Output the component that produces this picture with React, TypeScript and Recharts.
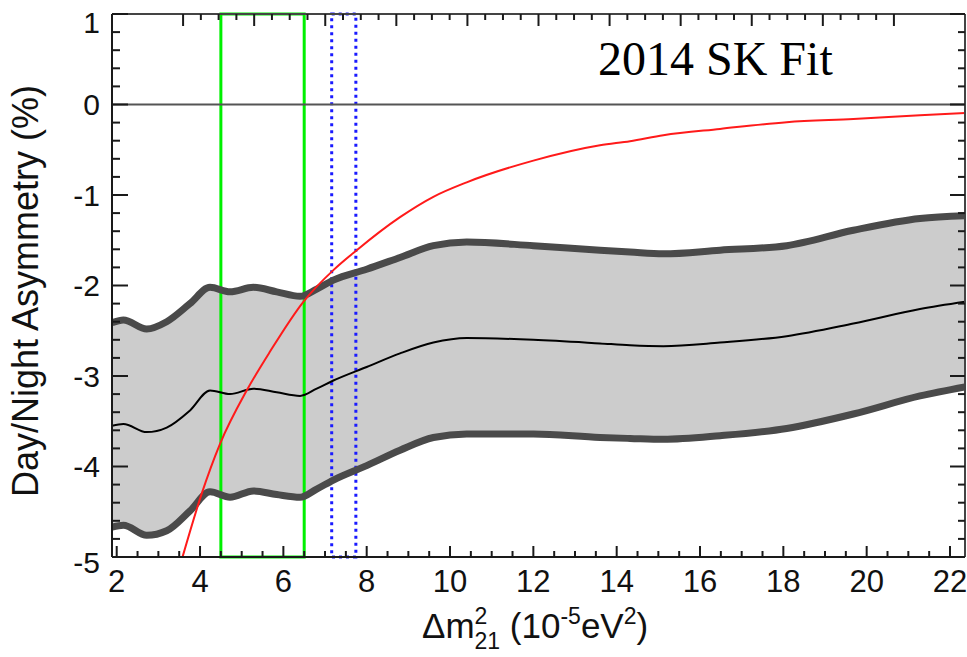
import React from "react";
import {
  Area,
  ComposedChart,
  Line,
  ReferenceArea,
  ReferenceLine,
  XAxis,
  YAxis,
} from "recharts";

// Δm²21 grid for the SK day/night band (10^-5 eV²)
const BAND_X = [
  1.89, 2.16, 2.72, 3.2, 3.76, 4.24, 4.72, 5.28, 5.84, 6.4, 6.8, 7.2, 8.0,
  8.8, 9.6, 10.4, 12.0, 13.6, 14.32, 15.12, 16.48, 18.08, 19.68, 21.28, 22.36,
];
const BAND_UPPER = [
  -2.41, -2.38, -2.48, -2.4, -2.2, -2.02, -2.07, -2.02, -2.07, -2.12, -2.04,
  -1.94, -1.82, -1.69, -1.56, -1.52, -1.56, -1.61, -1.63, -1.65, -1.61, -1.56,
  -1.39, -1.26, -1.23,
];
const BAND_MID = [
  -3.55, -3.53, -3.62, -3.57, -3.38, -3.16, -3.2, -3.14, -3.18, -3.22, -3.14,
  -3.05, -2.9, -2.75, -2.63, -2.58, -2.6, -2.64, -2.66, -2.67, -2.63, -2.56,
  -2.42, -2.26, -2.18,
];
const BAND_LOWER = [
  -4.67, -4.65, -4.76, -4.71, -4.49, -4.28, -4.34, -4.27, -4.31, -4.34, -4.25,
  -4.15, -3.99, -3.82, -3.68, -3.64, -3.64, -3.68, -3.69, -3.7, -3.66, -3.58,
  -3.42, -3.22, -3.12,
];

// expected asymmetry curve
const MSW_X = [
  3.58, 4.04, 4.48, 5.12, 5.68, 6.48, 7.2, 7.76, 8.8, 9.6, 10.4, 12.0, 13.6,
  14.32, 15.12, 16.48, 18.08, 19.68, 21.28, 22.36,
];
const MSW_Y = [
  -5.0, -4.3, -3.75, -3.16, -2.73, -2.18, -1.83, -1.61, -1.245, -1.02, -0.86,
  -0.62, -0.45, -0.405, -0.34, -0.27, -0.195, -0.16, -0.12, -0.095,
];

// solar (green) and KamLAND (blue) Δm² ranges
const SOLAR_RANGE = [4.5, 6.5];
const KAMLAND_RANGE = [7.16, 7.74];

const X_DOMAIN = [1.887, 22.36];
const Y_DOMAIN = [-5, 1];
const X_MAJOR = [2, 4, 6, 8, 10, 12, 14, 16, 18, 20, 22];
const X_TICKS = [
  2, 2.5, 3, 3.5, 4, 4.5, 5, 5.5, 6, 6.5, 7, 7.5, 8, 8.5, 9, 9.5, 10, 10.5, 11,
  11.5, 12, 12.5, 13, 13.5, 14, 14.5, 15, 15.5, 16, 16.5, 17, 17.5, 18, 18.5,
  19, 19.5, 20, 20.5, 21, 21.5, 22,
];
const Y_MAJOR = [1, 0, -1, -2, -3, -4, -5];
const Y_TICKS = [
  1, 0.8, 0.6, 0.4, 0.2, 0, -0.2, -0.4, -0.6, -0.8, -1, -1.2, -1.4, -1.6, -1.8,
  -2, -2.2, -2.4, -2.6, -2.8, -3, -3.2, -3.4, -3.6, -3.8, -4, -4.2, -4.4, -4.6,
  -4.8, -5,
];

const SANS = "'Liberation Sans', Arial, Helvetica, sans-serif";
const AXIS = "#1a1a1a";

const isMajor = (list: number[], v: number) =>
  list.some((m) => Math.abs(m - v) < 1e-6);

function BottomTick({ x, y, payload }: any) {
  const major = isMajor(X_MAJOR, payload.value);
  return (
    <g>
      <path d={`M${x},${y}V${y - (major ? 11 : 6)}`} stroke={AXIS} strokeWidth={2} fill="none" />
      {major && (
        <text x={x} y={y + 35} textAnchor="middle" fontSize={31} fontFamily={SANS} fill="#111">
          {payload.value}
        </text>
      )}
    </g>
  );
}

function TopTick({ x, y, payload }: any) {
  const major = isMajor(X_MAJOR, payload.value);
  return <path d={`M${x},${y}V${y + (major ? 12 : 6)}`} stroke={AXIS} strokeWidth={2} fill="none" />;
}

function LeftTick({ x, y, payload }: any) {
  const major = isMajor(Y_MAJOR, payload.value);
  // end labels sit a little inside the frame
  const nudge = payload.value === 1 ? 8 : payload.value === -5 ? 5 : 0;
  return (
    <g>
      <path d={`M${x},${y}H${x + (major ? 16 : 8)}`} stroke={AXIS} strokeWidth={2} fill="none" />
      {major && (
        <text x={x - 12} y={y + nudge} dy="0.36em" textAnchor="end" fontSize={30} fontFamily={SANS} fill="#111">
          {payload.value}
        </text>
      )}
    </g>
  );
}

function RightTick({ x, y, payload }: any) {
  const major = isMajor(Y_MAJOR, payload.value);
  return <path d={`M${x},${y}H${x - (major ? 15 : 7)}`} stroke={AXIS} strokeWidth={2} fill="none" />;
}

export default function App() {
  const band = BAND_X.map((x, i) => ({
    x,
    range: [BAND_LOWER[i], BAND_UPPER[i]],
    upper: BAND_UPPER[i],
    mid: BAND_MID[i],
    lower: BAND_LOWER[i],
  }));
  const msw = MSW_X.map((x, i) => ({ x, y: MSW_Y[i] }));

  return (
    <div style={{ position: "absolute", left: 0, top: 0, width: 967, height: 657, background: "#fff" }}>
      <ComposedChart
        width={967}
        height={657}
        data={band}
        margin={{ top: 13, right: 1, bottom: 99, left: 111 }}
      >
        <XAxis
          dataKey="x"
          type="number"
          domain={X_DOMAIN}
          allowDataOverflow
          ticks={X_TICKS}
          interval={0}
          height={1}
          tickSize={0}
          tickMargin={0}
          tick={<BottomTick />}
          axisLine={{ stroke: AXIS, strokeWidth: 2 }}
        />
        <XAxis
          xAxisId="top"
          orientation="top"
          type="number"
          domain={X_DOMAIN}
          allowDataOverflow
          ticks={X_TICKS}
          interval={0}
          height={1}
          tickSize={0}
          tickMargin={0}
          tick={<TopTick />}
          axisLine={{ stroke: "#444", strokeWidth: 2 }}
        />
        <YAxis
          type="number"
          domain={Y_DOMAIN}
          allowDataOverflow
          ticks={Y_TICKS}
          interval={0}
          width={1}
          tickSize={0}
          tickMargin={0}
          tick={<LeftTick />}
          axisLine={{ stroke: AXIS, strokeWidth: 2 }}
        />
        <YAxis
          yAxisId="right"
          orientation="right"
          type="number"
          domain={Y_DOMAIN}
          allowDataOverflow
          ticks={Y_TICKS}
          interval={0}
          width={1}
          tickSize={0}
          tickMargin={0}
          tick={<RightTick />}
          axisLine={{ stroke: "#444", strokeWidth: 2 }}
        />

        <Area
          dataKey="range"
          type="monotone"
          stroke="none"
          fill="#cccccc"
          fillOpacity={1}
          isAnimationActive={false}
        />
        <Line dataKey="upper" type="monotone" stroke="#4a4a4a" strokeWidth={7} dot={false} isAnimationActive={false} />
        <Line dataKey="lower" type="monotone" stroke="#4a4a4a" strokeWidth={7} dot={false} isAnimationActive={false} />
        <Line dataKey="mid" type="monotone" stroke="#000" strokeWidth={2} dot={false} isAnimationActive={false} />

        <ReferenceLine y={0} stroke="#555" strokeWidth={2} />

        <ReferenceArea
          x1={SOLAR_RANGE[0]}
          x2={SOLAR_RANGE[1]}
          y1={Y_DOMAIN[0]}
          y2={Y_DOMAIN[1]}
          fill="none"
          fillOpacity={0}
          stroke="#00f000"
          strokeWidth={3}
        />
        <ReferenceArea
          x1={KAMLAND_RANGE[0]}
          x2={KAMLAND_RANGE[1]}
          y1={Y_DOMAIN[0]}
          y2={Y_DOMAIN[1]}
          fill="none"
          fillOpacity={0}
          stroke="#1a1aff"
          strokeWidth={3}
          strokeDasharray="3 4"
        />

        <Line
          data={msw}
          dataKey="y"
          type="monotone"
          stroke="#ff1a1a"
          strokeWidth={2}
          dot={false}
          isAnimationActive={false}
        />
      </ComposedChart>

      <svg
        width={967}
        height={657}
        style={{ position: "absolute", left: 0, top: 0, pointerEvents: "none" }}
      >
        <text x={598} y={75} fontSize={48} fontFamily="'Liberation Serif', 'Times New Roman', serif" fill="#000">
          2014 SK Fit
        </text>
        <text
          transform="translate(38 291) rotate(-90)"
          textAnchor="middle"
          fontSize={36}
          fontFamily={SANS}
          fill="#111"
        >
          Day/Night Asymmetry (%)
        </text>
        <text x={422} y={638} fontSize={35} fontFamily={SANS} fill="#111">
          Δm
          <tspan fontSize={23} dy={-14}>2</tspan>
          <tspan fontSize={23} dx={-12.8} dy={25}>21</tspan>
          <tspan dy={-11}> (10</tspan>
          <tspan fontSize={23} dy={-14}>-5</tspan>
          <tspan dy={14}>eV</tspan>
          <tspan fontSize={23} dy={-14}>2</tspan>
          <tspan dy={14}>)</tspan>
        </text>
      </svg>
    </div>
  );
}
